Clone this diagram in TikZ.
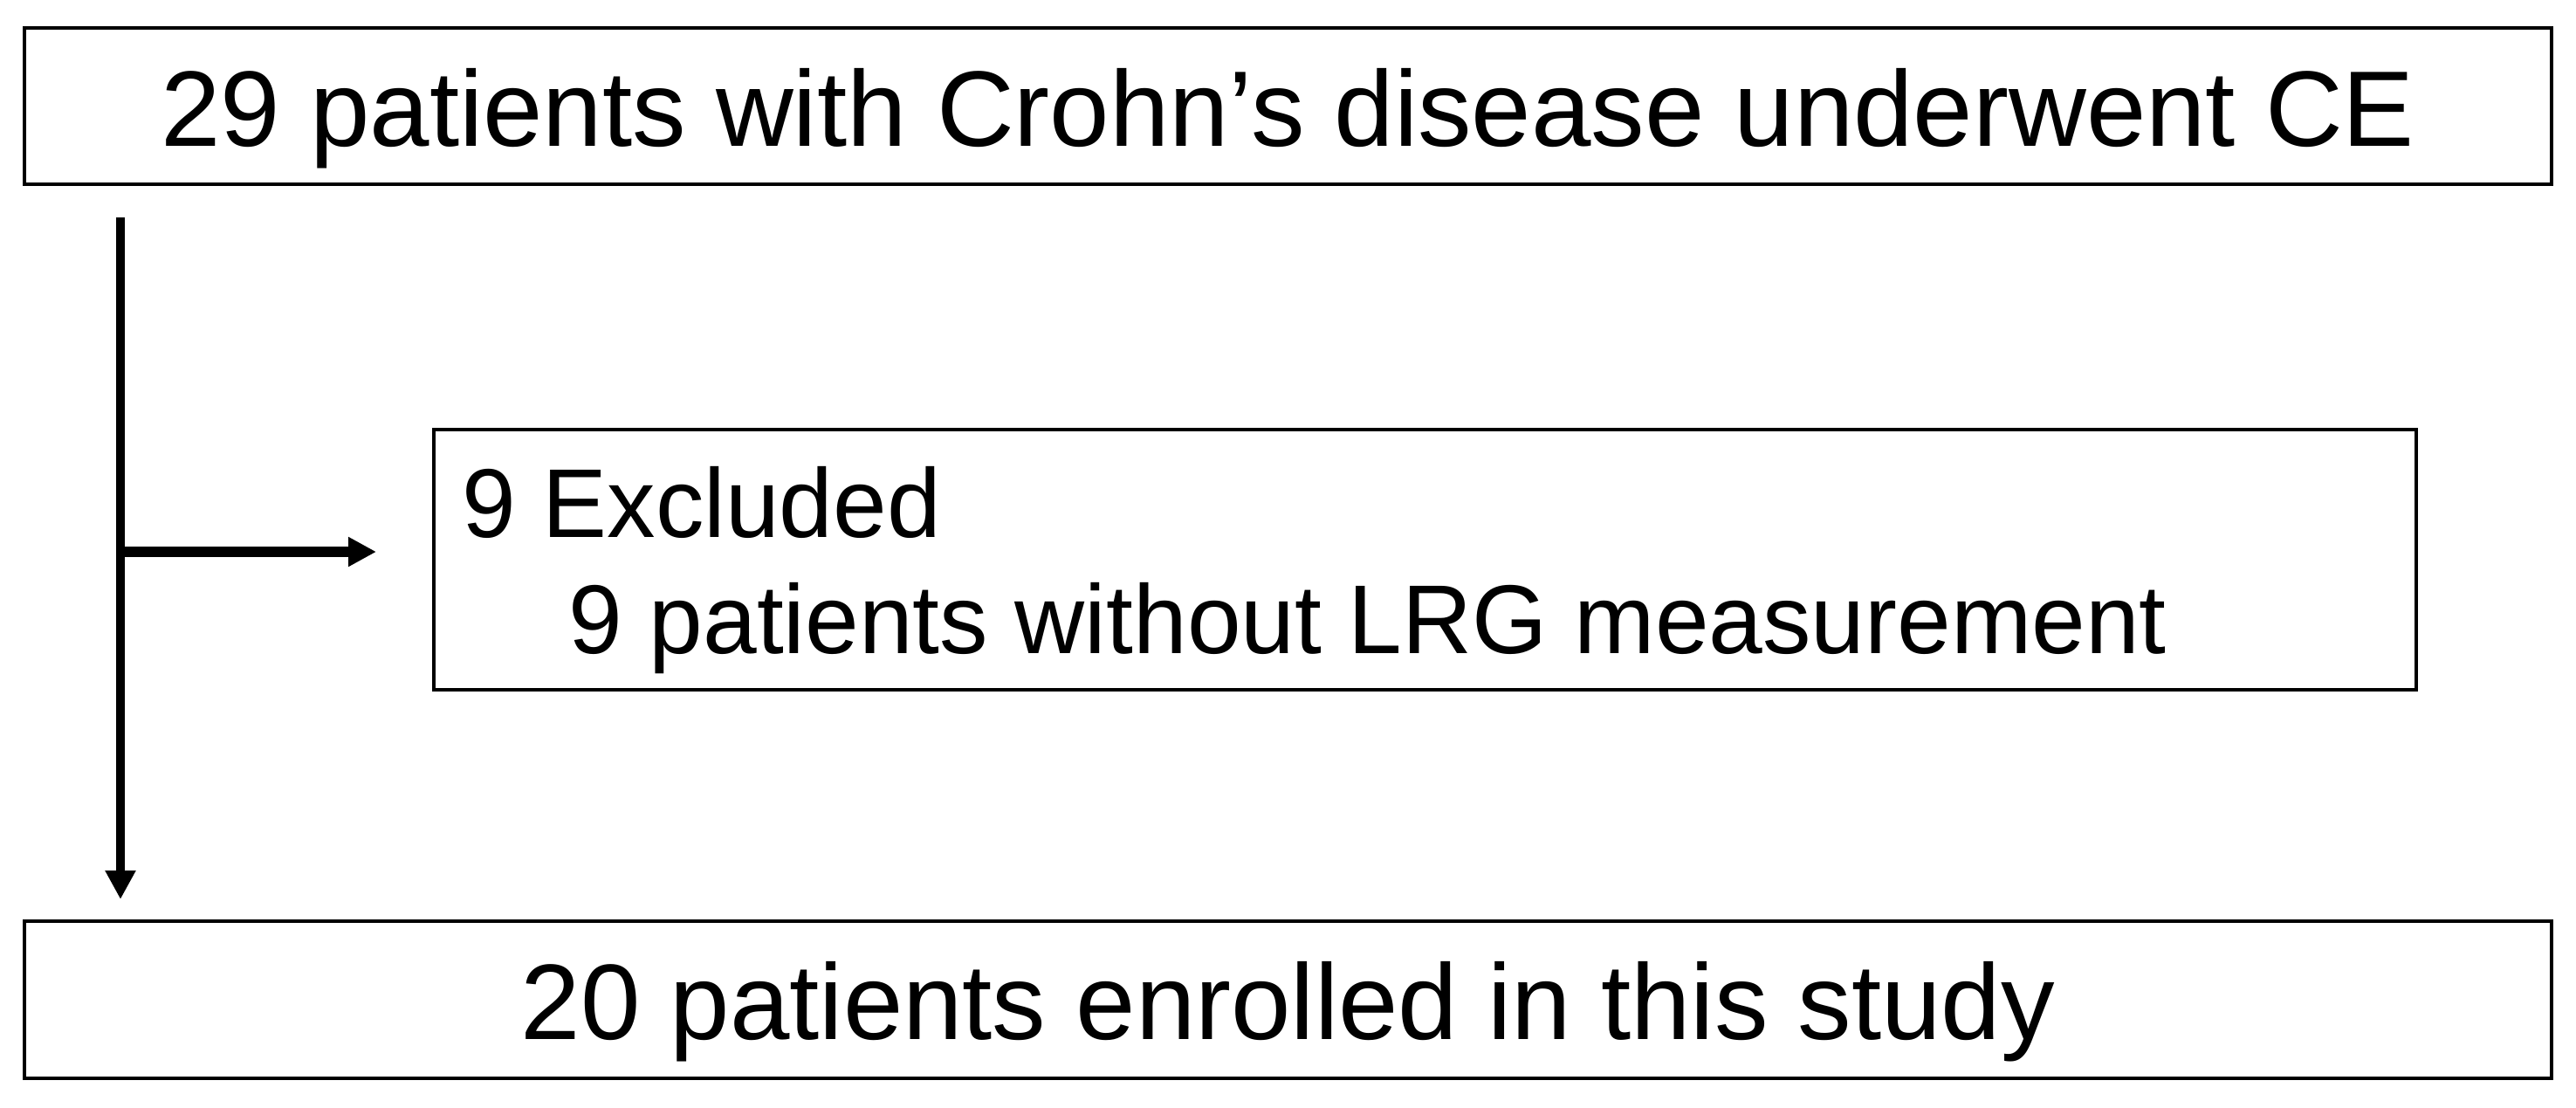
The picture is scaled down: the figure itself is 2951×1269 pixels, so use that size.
\documentclass[tikz,border=0pt]{standalone}
\usepackage{fontspec}
\setmainfont{Liberation Sans}
\newfontfamily\condfont[FakeStretch=0.99]{Liberation Sans}
\usetikzlibrary{arrows.meta,calc}
\begin{document}
\begin{tikzpicture}[x=0.5pt,y=-0.5pt,
  box/.style={draw=black, line width=2pt, inner sep=0pt, rectangle},
  bigtext/.style={font=\fontsize{61.5pt}{74pt}\selectfont},
  midtext/.style={font=\condfont\fontsize{56pt}{67pt}\selectfont, inner sep=0pt, anchor=base west},
  vconn/.style={line width=5.4pt, -{Triangle[length=16.5pt,width=16.5pt]}},
  hconn/.style={line width=5.8pt, -{Triangle[length=16pt,width=16pt]}}]
\path[use as bounding box, fill=white] (0,0) rectangle (2951,1269);
\node[box, bigtext, minimum width=1447.5pt, minimum height=89.5pt, text height=45.5pt, text depth=0pt] (top) at (1475.5,121.5) {29 patients with Crohn’s disease underwent CE};
\node[box, minimum width=1135.5pt, minimum height=149pt] (mid) at (1632.5,641) {};
\node[midtext] (ex1) at (529,615) {9 Excluded};
\node[midtext] (ex2) at (651,748) {9 patients without LRG measurement};
\node[box, bigtext, minimum width=1447.5pt, minimum height=90pt, text height=45pt, text depth=0pt] (bot) at (1475.5,1145) {20 patients enrolled in this study};
\coordinate (vx) at (138,632);
\draw[vconn] ($(vx |- top.south)+(0,36)$) -- ($(vx |- bot.north)+(0,-23)$);
\draw[hconn] (vx) -- ($(mid.west |- vx)+(-64,0)$);
\end{tikzpicture}
\end{document}
